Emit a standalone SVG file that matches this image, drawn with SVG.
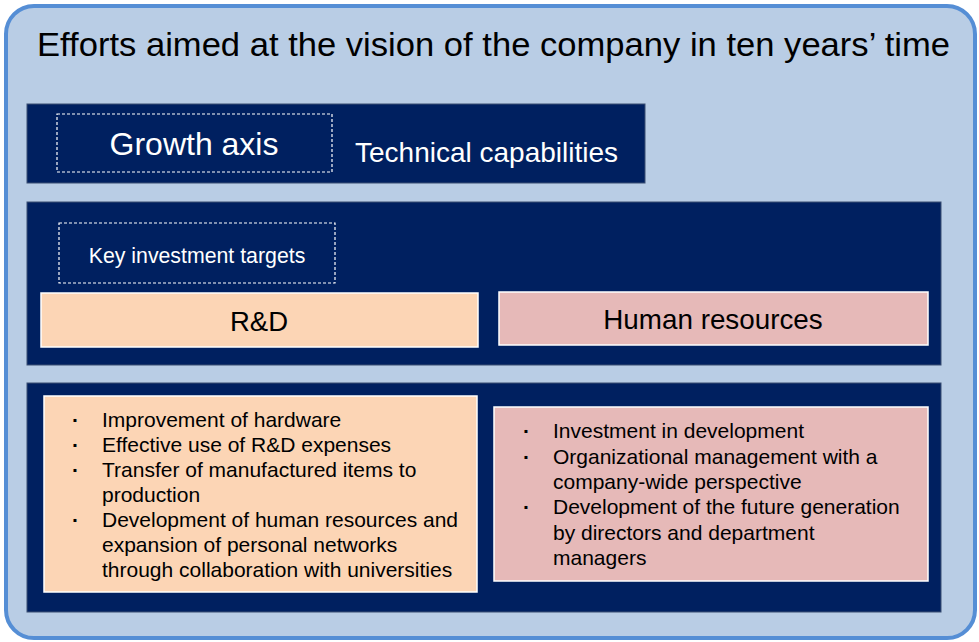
<svg xmlns="http://www.w3.org/2000/svg" width="979" height="642" viewBox="0 0 979 642">
  <style>
    text { font-family: "Liberation Sans", Arial, sans-serif; }
    .panel { fill: #002060; stroke: #3B4E72; stroke-width: 1; }
    .dash { fill: none; stroke: #FFFFFF; stroke-width: 1.2; stroke-dasharray: 3 2; }
    .light { fill: #FFFFFF; }
    .dark { fill: #000000; }
    .rd { fill: #FCD5B5; stroke: #FFFFFF; stroke-width: 1.5; }
    .hr { fill: #E6B9B8; stroke: #FFFFFF; stroke-width: 1.5; }
    .item { font-size: 21px; fill: #000000; }
    .dot { font-weight: bold; }
  </style>

  <!-- outer frame -->
  <g id="frame">
    <rect x="6" y="6" width="969" height="632" rx="28" ry="28" fill="#B9CDE5" stroke="#558ED5" stroke-width="4"/>
    <text x="37" y="56" font-size="33" class="dark" textLength="913" lengthAdjust="spacingAndGlyphs">Efforts aimed at the vision of the company in ten years’ time</text>
  </g>

  <!-- growth axis band -->
  <g id="growth-axis">
    <rect class="panel" x="27" y="104" width="618" height="79"/>
    <rect class="dash" x="57" y="114" width="275" height="58"/>
    <text x="194" y="155" font-size="32" class="light" text-anchor="middle">Growth axis</text>
    <text x="355" y="162" font-size="28" class="light">Technical capabilities</text>
  </g>

  <!-- key investment targets band -->
  <g id="key-targets">
    <rect class="panel" x="27" y="202" width="914" height="163"/>
    <rect class="dash" x="59" y="223" width="276" height="60"/>
    <text x="197" y="263" font-size="21.3" class="light" text-anchor="middle">Key investment targets</text>
  </g>

  <g id="rd-header">
    <rect class="rd" x="41" y="293" width="437" height="54"/>
    <text x="259" y="331" font-size="27.5" class="dark" text-anchor="middle">R&amp;D</text>
  </g>

  <g id="hr-header">
    <rect class="hr" x="499" y="292" width="429" height="53"/>
    <text x="713" y="329" font-size="27.8" class="dark" text-anchor="middle">Human resources</text>
  </g>

  <!-- details band -->
  <g id="details">
    <rect class="panel" x="27" y="383" width="914" height="229"/>
  </g>

  <g id="rd-details">
    <rect class="rd" x="44" y="396" width="433" height="196"/>
    <text class="item">
      <tspan class="dot" x="72" y="427">·</tspan><tspan x="102" y="427">Improvement of hardware</tspan>
      <tspan class="dot" x="72" y="452">·</tspan><tspan x="102" y="452">Effective use of R&amp;D expenses</tspan>
      <tspan class="dot" x="72" y="477">·</tspan><tspan x="102" y="477">Transfer of manufactured items to</tspan>
      <tspan x="102" y="502">production</tspan>
      <tspan class="dot" x="72" y="527">·</tspan><tspan x="102" y="527">Development of human resources and</tspan>
      <tspan x="102" y="552">expansion of personal networks</tspan>
      <tspan x="102" y="577">through collaboration with universities</tspan>
    </text>
  </g>

  <g id="hr-details">
    <rect class="hr" x="494" y="407" width="434" height="174"/>
    <text class="item">
      <tspan class="dot" x="523" y="438">·</tspan><tspan x="553" y="438">Investment in development</tspan>
      <tspan class="dot" x="523" y="464">·</tspan><tspan x="553" y="464">Organizational management with a</tspan>
      <tspan x="553" y="489">company-wide perspective</tspan>
      <tspan class="dot" x="523" y="514">·</tspan><tspan x="553" y="514">Development of the future generation</tspan>
      <tspan x="553" y="540">by directors and department</tspan>
      <tspan x="553" y="565">managers</tspan>
    </text>
  </g>

  <!-- no connectors in this layout -->
  <g id="connectors"/>
</svg>
